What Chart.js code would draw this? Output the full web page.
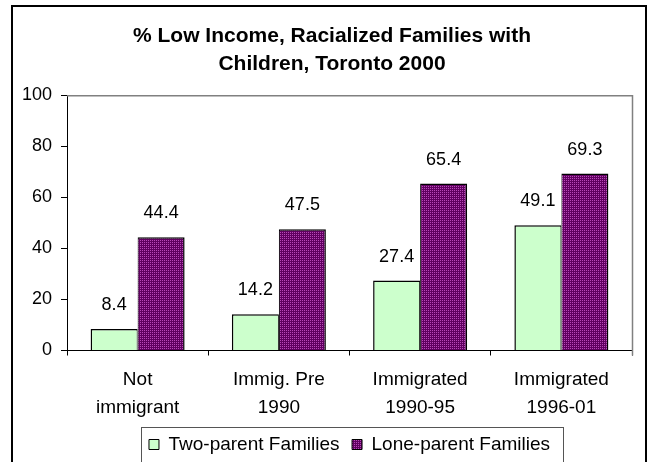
<!DOCTYPE html>
<html><head><meta charset="utf-8">
<script src="https://cdn.jsdelivr.net/npm/chart.js@4.4.1/dist/chart.umd.min.js"></script>
<style>html,body{margin:0;padding:0;background:#fff;}canvas{display:block;}</style>
</head><body>
<canvas id="c" width="653" height="462"></canvas>
<script>
const categories = [['Not','immigrant'],['Immig. Pre','1990'],['Immigrated','1990-95'],['Immigrated','1996-01']];
const twoParent = [8.4, 14.2, 27.4, 49.1];
const loneParent = [44.4, 47.5, 65.4, 69.3];
const yTicks = [0, 20, 40, 60, 80, 100];
const titleLines = ['% Low Income, Racialized Families with', 'Children, Toronto 2000'];
const seriesNames = ['Two-parent Families', 'Lone-parent Families'];

const FONT = '"Liberation Sans", Arial, sans-serif';
const canvas = document.getElementById('c');
const ctx = canvas.getContext('2d');

function makePattern() {
  const t = document.createElement('canvas');
  t.width = 2; t.height = 2;
  const g = t.getContext('2d');
  g.fillStyle = '#600060'; g.fillRect(0, 0, 2, 2);
  g.fillStyle = '#b848b8'; g.fillRect(0, 0, 1, 1);
  return ctx.createPattern(t, 'repeat');
}
const purplePattern = makePattern();

const framePlugin = {
  id: 'frame',
  beforeDraw(chart) {
    const c = chart.ctx;
    c.save();
    c.fillStyle = '#fff';
    c.fillRect(0, 0, chart.width, chart.height);
    c.strokeStyle = '#000';
    c.lineWidth = 2;
    c.strokeRect(12, 6, 634, 500);
    c.restore();
  },
  beforeDatasetsDraw(chart) {
    const c = chart.ctx;
    const a = chart.chartArea;
    c.save();
    c.strokeStyle = '#808080';
    c.lineWidth = 1.5;
    c.beginPath();
    c.moveTo(a.left, a.top + 0.5);
    c.lineTo(a.right + 0.5, a.top + 0.5);
    c.lineTo(a.right + 0.5, a.bottom + 5);
    c.stroke();
    c.restore();
  },
  afterDatasetsDraw(chart) {
    const c = chart.ctx;
    c.save();
    c.fillStyle = '#000';
    c.font = '18px ' + FONT;
    c.textAlign = 'center';
    c.textBaseline = 'middle';
    chart.data.datasets.forEach((ds, di) => {
      const meta = chart.getDatasetMeta(di);
      meta.data.forEach((bar, i) => {
        c.fillText(String(ds.data[i]), bar.x, bar.y - 24);
      });
    });
    c.restore();
  },
  afterDraw(chart) {
    const lg = chart.legend;
    if (!lg || !lg.legendHitBoxes || !lg.legendHitBoxes.length) return;
    const hb = lg.legendHitBoxes;
    const first = hb[0], last = hb[hb.length - 1];
    const c = chart.ctx;
    const left = Math.round(first.left - 8) + 0.5;
    const right = Math.round(last.left + last.width + 13) + 0.5;
    const top = Math.round(first.top + first.height / 2 - 17.5) + 0.5;
    c.save();
    c.strokeStyle = '#555';
    c.lineWidth = 1;
    c.strokeRect(left, top, right - left, 60);
    c.restore();
  }
};

new Chart(ctx, {
  type: 'bar',
  data: {
    labels: categories,
    datasets: [
      { label: seriesNames[0], data: twoParent, backgroundColor: '#CCFFCC', borderColor: '#000',
        borderWidth: { left: 1.5, top: 1.5, right: 1, bottom: 0 }, borderSkipped: false },
      { label: seriesNames[1], data: loneParent, backgroundColor: purplePattern, borderColor: '#000',
        borderWidth: { left: 1, top: 1.5, right: 1.5, bottom: 0 }, borderSkipped: false }
    ]
  },
  options: {
    responsive: false,
    animation: false,
    devicePixelRatio: 1,
    layout: { padding: { left: 12, right: 1, top: 0, bottom: -2 } },
    datasets: { bar: { categoryPercentage: 0.6655, barPercentage: 1 } },
    scales: {
      x: {
        afterFit(s) { s.height = 72; },
        grid: { display: true, drawOnChartArea: false, drawTicks: true, tickLength: 5, color: '#000', offset: true },
        border: { display: true, color: '#000', width: 1 },
        ticks: { color: '#000', font: { family: FONT, size: 19, lineHeight: 1.4737 }, padding: 10.5, maxRotation: 0, autoSkip: false }
      },
      y: {
        min: 0, max: 100,
        afterBuildTicks(s) { s.ticks = yTicks.map(v => ({ value: v })); },
        afterFit(s) { s.width = 55; },
        grid: { drawOnChartArea: false, drawTicks: true, tickLength: 6, color: '#000' },
        border: { display: true, color: '#000', width: 1 },
        ticks: { color: '#000', font: { family: FONT, size: 18 }, padding: 9 }
      },
      y2: {
        position: 'right', display: true,
        grid: { display: false }, border: { display: false }, ticks: { display: false },
        afterFit(s) { s.width = 20; }
      }
    },
    plugins: {
      title: {
        display: true, text: titleLines, color: '#000',
        font: { family: FONT, size: 21, weight: 'bold', lineHeight: 1.35 },
        padding: { top: 22, bottom: 16.5 }
      },
      legend: {
        position: 'bottom', fullSize: false,
        labels: {
          boxWidth: 10, boxHeight: 10, padding: 12.5, color: '#000',
          font: { family: FONT, size: 19, lineHeight: 1 },
          generateLabels(chart) {
            const items = Chart.defaults.plugins.legend.labels.generateLabels(chart);
            items.forEach(it => { it.lineWidth = 1; it.strokeStyle = '#000'; });
            return items;
          }
        }
      },
      tooltip: { enabled: false }
    }
  },
  plugins: [framePlugin]
});
</script>
</body></html>
